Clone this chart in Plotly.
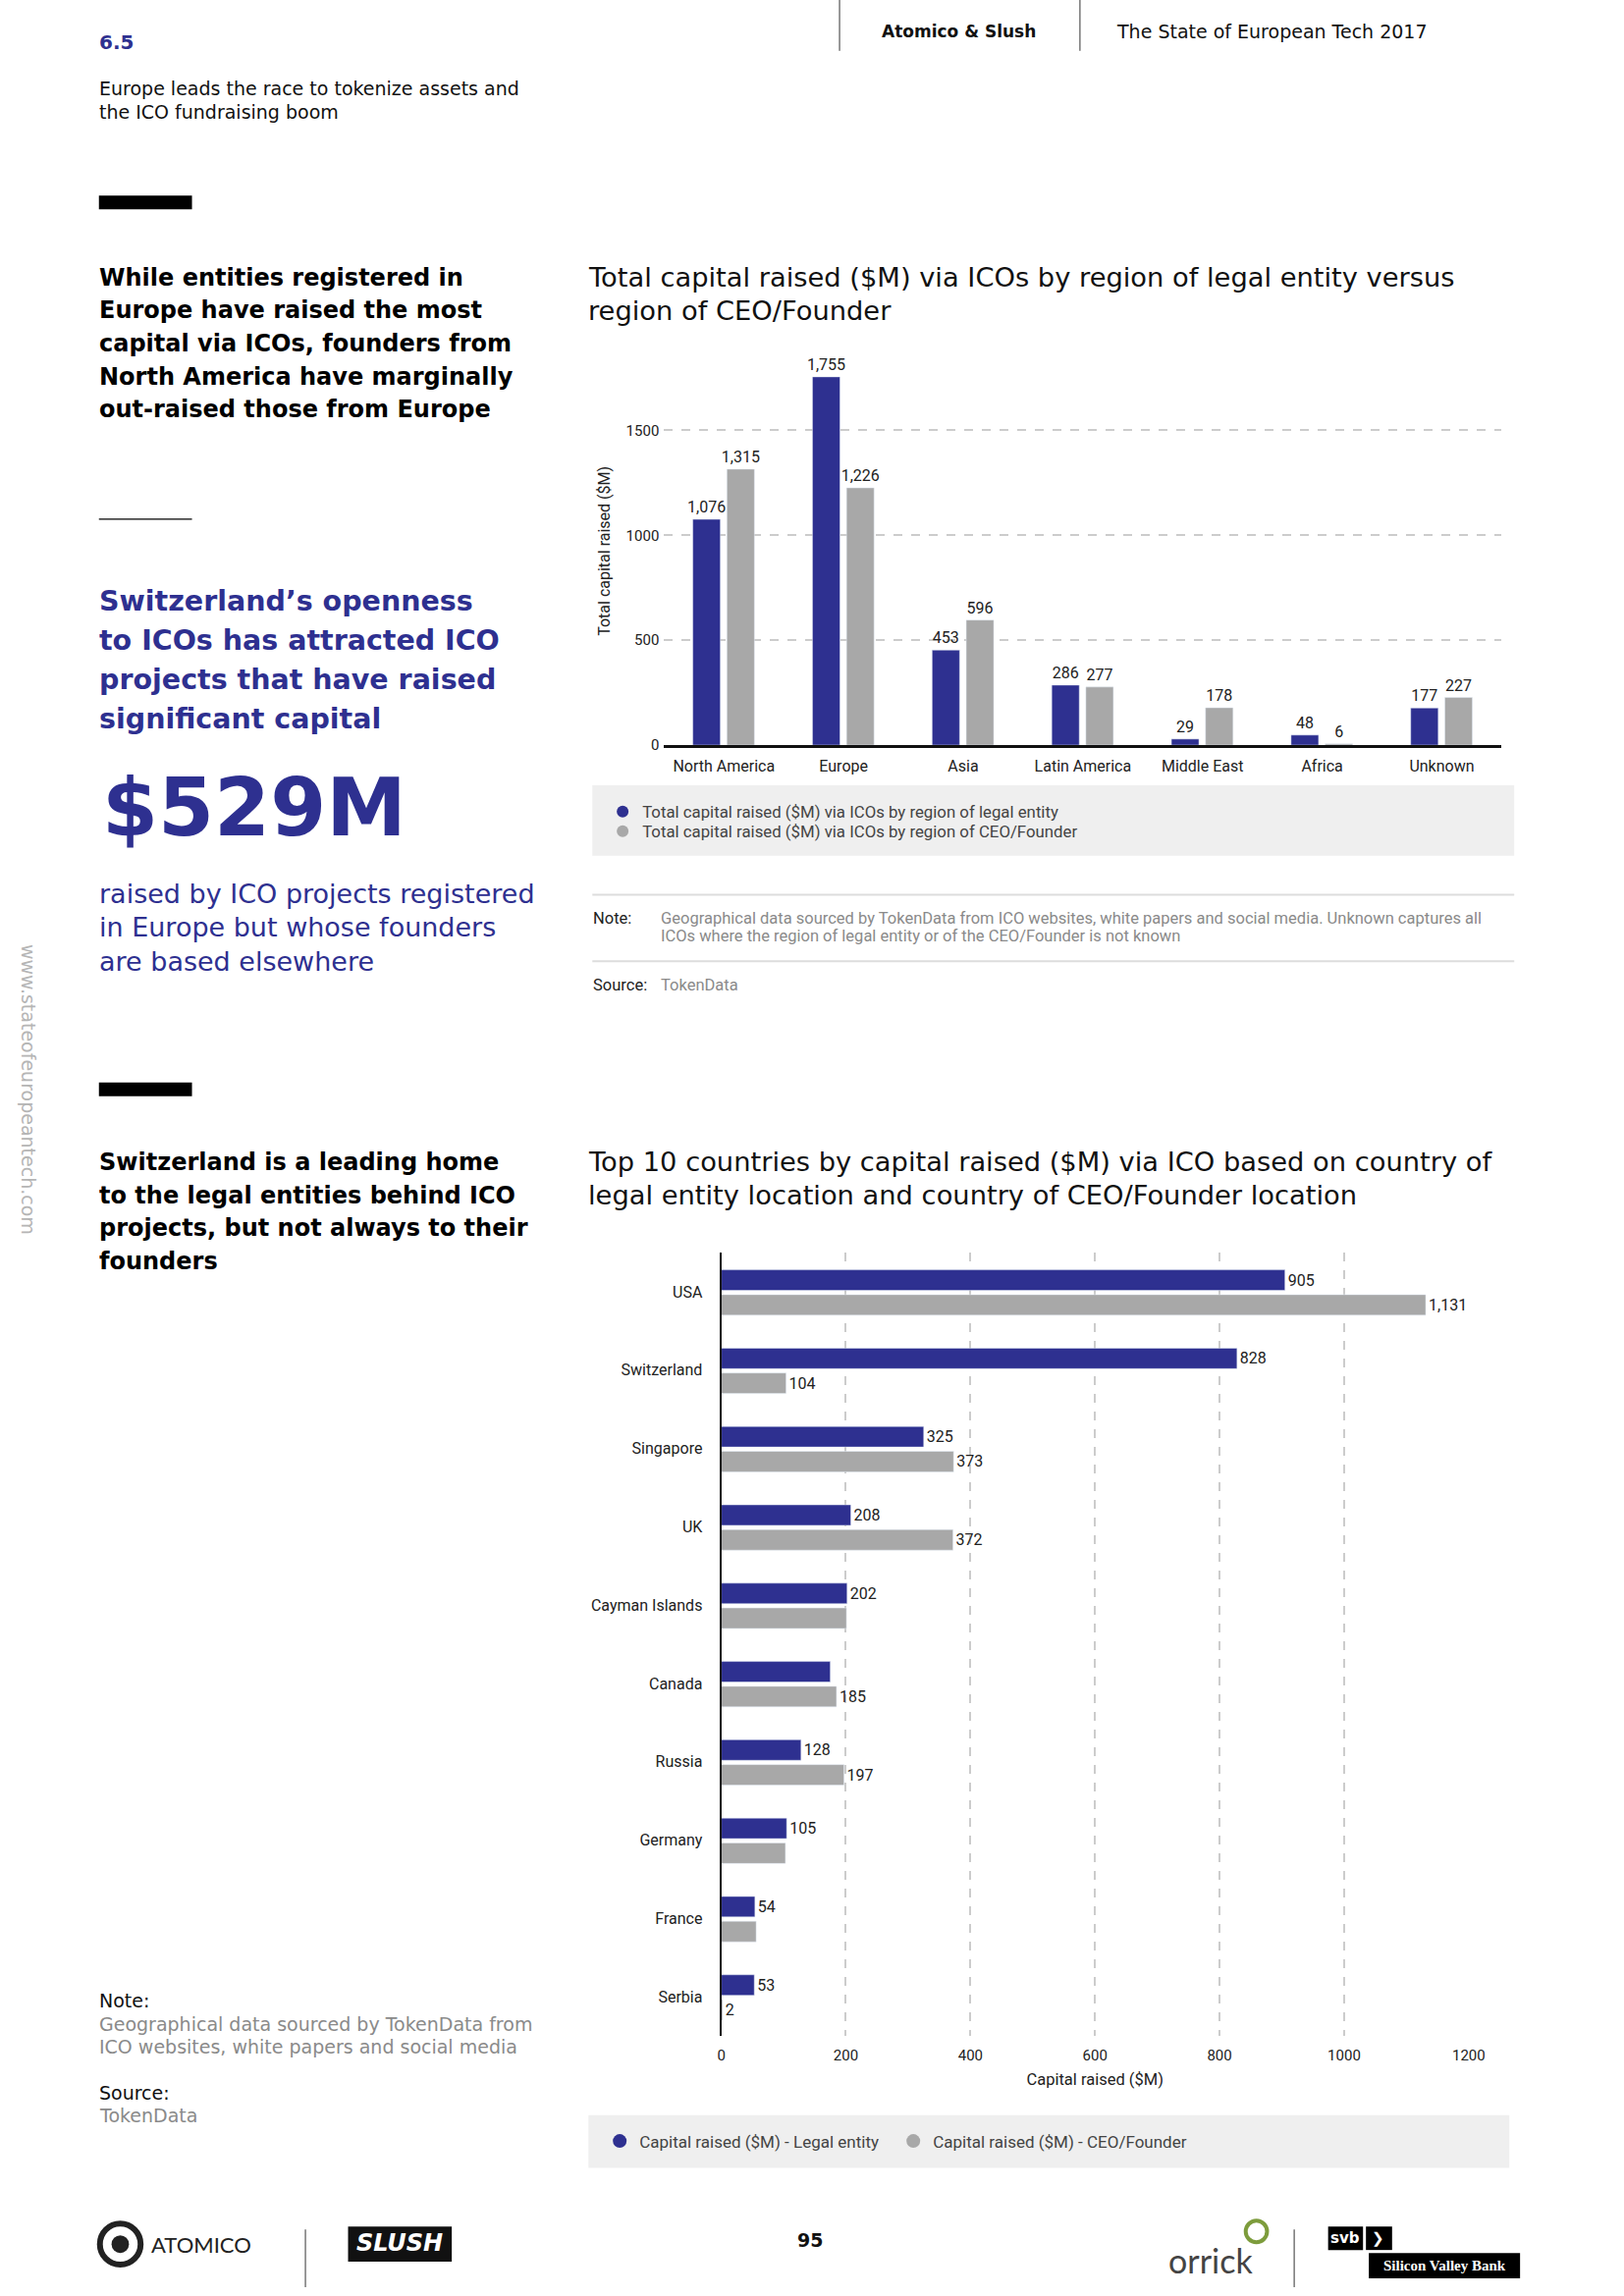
import plotly.graph_objects as go

W, H = 1654, 2339

# ---------------- data ----------------
regions = ["North America", "Europe", "Asia", "Latin America", "Middle East", "Africa", "Unknown"]
legal_region = [1076, 1755, 453, 286, 29, 48, 177]
founder_region = [1315, 1226, 596, 277, 178, 6, 227]
region_ticks = [0, 500, 1000, 1500]

countries = ["USA", "Switzerland", "Singapore", "UK", "Cayman Islands",
             "Canada", "Russia", "Germany", "France", "Serbia"]
legal_country = [905, 828, 325, 208, 202, 175, 128, 105, 54, 53]
founder_country = [1131, 104, 373, 372, 201, 185, 197, 103, 56, 2]
legal_country_labelled = [True, True, True, True, True, False, True, True, True, True]
founder_country_labelled = [True, True, True, True, False, True, True, False, False, True]
country_ticks = [0, 200, 400, 600, 800, 1000, 1200]

BLUE = "#2e3090"
GREY = "#a8a8a8"
CHART_FONT = "Roboto"
TITLE_FONT = "DejaVu Sans"
WIDE = "DejaVu Sans"


def px(x):
    return x / W


def py(y):
    return 1 - y / H


fig = go.Figure()
label_font = dict(size=16, color="#222", family=CHART_FONT)

# ---------------- chart 1: regions ----------------
fig.add_trace(go.Bar(
    x=regions, y=legal_region, name="legal", marker_color=BLUE,
    width=0.23, offset=-0.26,
    text=[f"{v:,}" for v in legal_region], textposition="outside",
    constraintext="none", textfont=label_font, cliponaxis=False,
    showlegend=False, xaxis="x", yaxis="y"))
fig.add_trace(go.Bar(
    x=regions, y=founder_region, name="founder", marker_color=GREY,
    width=0.23, offset=0.025,
    text=[f"{v:,}" for v in founder_region], textposition="outside",
    constraintext="none", textfont=label_font, cliponaxis=False,
    showlegend=False, xaxis="x", yaxis="y"))
# legend entries with round markers (one legend per row for exact spacing)
fig.add_trace(go.Scatter(
    x=[None], y=[None], mode="markers", marker=dict(color=BLUE, size=14),
    name="Total capital raised ($M) via ICOs by region of legal entity",
    legend="legend", xaxis="x", yaxis="y"))
fig.add_trace(go.Scatter(
    x=[None], y=[None], mode="markers", marker=dict(color=GREY, size=14),
    name="Total capital raised ($M) via ICOs by region of CEO/Founder",
    legend="legend3", xaxis="x", yaxis="y"))

# ---------------- chart 2: countries ----------------
fig.add_trace(go.Bar(
    y=countries, x=legal_country, orientation="h", marker_color=BLUE,
    width=0.262, offset=-0.28,
    text=[f"{v:,}" if s else "" for v, s in zip(legal_country, legal_country_labelled)],
    textposition="outside", constraintext="none", textfont=label_font,
    cliponaxis=False, showlegend=False, xaxis="x2", yaxis="y2"))
fig.add_trace(go.Bar(
    y=countries, x=founder_country, orientation="h", marker_color=GREY,
    width=0.262, offset=0.037,
    text=[f"{v:,}" if s else "" for v, s in zip(founder_country, founder_country_labelled)],
    textposition="outside", constraintext="none", textfont=label_font,
    cliponaxis=False, showlegend=False, xaxis="x2", yaxis="y2"))
fig.add_trace(go.Scatter(
    x=[None], y=[None], mode="markers", marker=dict(color=BLUE, size=14),
    name="Capital raised ($M) - Legal entity", legend="legend2", xaxis="x2", yaxis="y2"))
fig.add_trace(go.Scatter(
    x=[None], y=[None], mode="markers", marker=dict(color=GREY, size=14),
    name="Capital raised ($M) - CEO/Founder", legend="legend2", xaxis="x2", yaxis="y2"))

# ---------------- annotations ----------------
ann = []


def text(x, y, s, size, color="#000", family=WIDE, xanchor="left", angle=0):
    ann.append(dict(x=px(x), y=py(y), xref="paper", yref="paper", text=s,
                    showarrow=False, xanchor=xanchor, yanchor="middle",
                    textangle=angle,
                    font=dict(size=size, color=color, family=family)))


def lines(x, y0, step, items, size, color="#000", family=WIDE, bold=False):
    for i, s in enumerate(items):
        text(x, y0 + i * step, f"<b>{s}</b>" if bold else s, size, color, family)


LX = 96  # left column text x

# header
text(LX, 43, "<b>6.5</b>", 20, BLUE)
lines(LX, 90, 24, ["Europe leads the race to tokenize assets and",
                   "the ICO fundraising boom"], 19, "#111")
text(985, 32, "<b>Atomico &amp; Slush</b>", 17, "#111", xanchor="center")
text(1308, 32, "The State of European Tech 2017", 19, "#111", xanchor="center")

# left column
lines(LX, 284, 33.7, ["While entities registered in",
                      "Europe have raised the most",
                      "capital via ICOs, founders from",
                      "North America have marginally",
                      "out-raised those from Europe"], 24, "#000", bold=True)
lines(LX, 615, 40, ["Switzerland’s openness",
                    "to ICOs has attracted ICO",
                    "projects that have raised",
                    "significant capital"], 28.5, BLUE, bold=True)
text(LX + 3, 826, "<b>$529M</b>", 82, BLUE)
lines(LX, 914, 34.5, ["raised by ICO projects registered",
                      "in Europe but whose founders",
                      "are based elsewhere"], 27, BLUE)
lines(LX, 1189, 33.5, ["Switzerland is a leading home",
                       "to the legal entities behind ICO",
                       "projects, but not always to their",
                       "founders"], 24, "#000", bold=True)
text(26, 1114, "www.stateofeuropeantech.com", 19, "#b5b5b5", xanchor="center", angle=90)
text(LX, 2046, "Note:", 19, "#111")
lines(LX, 2070, 23, ["Geographical data sourced by TokenData from",
                     "ICO websites, white papers and social media"], 19, "#8a8a8a")
text(LX, 2140, "Source:", 19, "#111")
text(LX, 2163, "TokenData", 19, "#8a8a8a")

# chart titles
lines(601, 284, 34, ["Total capital raised ($M) via ICOs by region of legal entity versus",
                     "region of CEO/Founder"], 27.3, "#111", TITLE_FONT)
lines(601, 1188, 34, ["Top 10 countries by capital raised ($M) via ICO based on country of",
                      "legal entity location and country of CEO/Founder location"], 27.3, "#111", TITLE_FONT)

# chart 1 notes
text(606, 939, "Note:", 16.5, "#222", CHART_FONT)
lines(676, 939, 18, ["Geographical data sourced by TokenData from ICO websites, white papers and social media. Unknown captures all",
                     "ICOs where the region of legal entity or of the CEO/Founder is not known"], 16.5, "#8a8a8a", CHART_FONT)
text(606, 1007, "Source:", 16.5, "#222", CHART_FONT)
text(676, 1007, "TokenData", 16.5, "#8a8a8a", CHART_FONT)

# footer
FY = 2295
text(150, FY, "ATOMICO", 22, "#222", "Lato")
text(408, FY - 1, "<b><i>SLUSH</i></b>", 24, "#fff", WIDE, xanchor="center")
text(832, FY - 4, "<b>95</b>", 19, "#111", xanchor="center")
text(1245, FY + 16, "orrick", 34, "#444", "Lato", xanchor="center")
text(1384, FY - 6, "<b>svb</b>", 15, "#fff", xanchor="center")
text(1418, FY - 6, "<b>❯</b>", 15, "#fff", xanchor="center")
text(1486, FY + 22, "<b>Silicon Valley Bank</b>", 15, "#fff", "Liberation Serif", xanchor="center")

# ---------------- shapes ----------------
shapes = []


def rect(x0, y0, x1, y1, color, layer="below"):
    shapes.append(dict(type="rect", xref="paper", yref="paper",
                       x0=px(x0), x1=px(x1), y0=py(y0), y1=py(y1),
                       fillcolor=color, line=dict(width=0), layer=layer))


def line(x0, y0, x1, y1, color, width):
    shapes.append(dict(type="line", xref="paper", yref="paper",
                       x0=px(x0), x1=px(x1), y0=py(y0), y1=py(y1),
                       line=dict(color=color, width=width)))


line(862, 0, 862, 52, "#333", 1)
line(1110, 0, 1110, 52, "#333", 1)
rect(98, 200, 194, 214, "#000")
line(98, 531, 194, 531, "#000", 1.2)
rect(98, 1107, 194, 1121, "#000")
rect(607, 803, 1558, 875, "#efefef")
line(607, 915, 1558, 915, "#dddddd", 2)
line(607, 983, 1558, 983, "#dddddd", 2)
rect(603, 2163, 1553, 2217, "#efefef")
# footer shapes
line(311, 2280, 311, 2339, "#333", 1)
line(1331, 2280, 1331, 2339, "#333", 1)
shapes.append(dict(type="circle", xref="paper", yref="paper",
                   x0=px(99), x1=px(141), y0=py(FY - 21), y1=py(FY + 21),
                   line=dict(color="#222", width=6), fillcolor="#fff"))
shapes.append(dict(type="circle", xref="paper", yref="paper",
                   x0=px(111), x1=px(129), y0=py(FY - 9), y1=py(FY + 9),
                   line=dict(width=0), fillcolor="#222"))
rect(355, FY - 18, 462, FY + 18, "#111")
shapes.append(dict(type="circle", xref="paper", yref="paper",
                   x0=px(1281), x1=px(1303), y0=py(FY - 24), y1=py(FY - 2),
                   line=dict(color="#7d9c3c", width=4)))
rect(1366, FY - 18, 1402, FY + 6, "#000")
rect(1405, FY - 18, 1432, FY + 6, "#000")
rect(1408, FY + 9, 1564, FY + 35, "#000")

# ---------------- layout ----------------
tickfont = dict(size=16, color="#222", family=CHART_FONT)
legend_font = dict(size=16.8, color="#444", family=CHART_FONT)
fig.update_layout(
    width=W, height=H, margin=dict(l=0, r=0, t=0, b=0),
    paper_bgcolor="white", plot_bgcolor="white",
    font=dict(family=CHART_FONT, color="#222"),
    annotations=ann, shapes=shapes,
    xaxis=dict(domain=[px(681), px(1545)], anchor="y", type="category",
               showline=True, linecolor="#111", linewidth=2.5, ticks="",
               tickfont=tickfont, showgrid=False, ticklabelstandoff=5),
    yaxis=dict(domain=[py(762), py(365)], anchor="x", range=[0, 1850],
               tickvals=region_ticks, showgrid=True, gridcolor="#cccccc",
               griddash="dash", gridwidth=1.5, zeroline=False, showline=False,
               ticks="", tickfont=dict(size=15, color="#222", family=CHART_FONT),
               ticklabelstandoff=4,
               title=dict(text="Total capital raised ($M)",
                          font=dict(size=16, color="#222", family=CHART_FONT),
                          standoff=12)),
    xaxis2=dict(domain=[px(740), px(1511)], anchor="y2", range=[0, 1200],
                tickvals=country_ticks, showgrid=True, gridcolor="#cccccc",
                griddash="dash", gridwidth=1.5, zeroline=False, showline=False,
                ticks="", tickfont=dict(size=15, color="#222", family=CHART_FONT),
                ticklabelstandoff=9,
                title=dict(text="Capital raised ($M)",
                           font=dict(size=16.5, color="#222", family=CHART_FONT),
                           standoff=10)),
    yaxis2=dict(domain=[py(2082), py(1281)], anchor="x2", type="category",
                autorange="reversed", showline=True, linecolor="#111",
                linewidth=2, ticks="", tickfont=tickfont, ticklabelstandoff=14,
                showgrid=False),
    legend=dict(x=px(618), y=py(830), xanchor="left", yanchor="middle",
                bgcolor="rgba(0,0,0,0)", font=legend_font, itemsizing="constant"),
    legend3=dict(x=px(618), y=py(850), xanchor="left", yanchor="middle",
                 bgcolor="rgba(0,0,0,0)", font=legend_font, itemsizing="constant"),
    legend2=dict(x=px(615), y=py(2190), xanchor="left", yanchor="middle",
                 orientation="h", bgcolor="rgba(0,0,0,0)",
                 font=dict(size=17, color="#444", family=CHART_FONT),
                 entrywidth=254, entrywidthmode="pixels"),
)

fig.write_html("out.html", config={"displayModeBar": False},
               post_script="document.body.style.margin='0';document.body.style.overflow='hidden';")
